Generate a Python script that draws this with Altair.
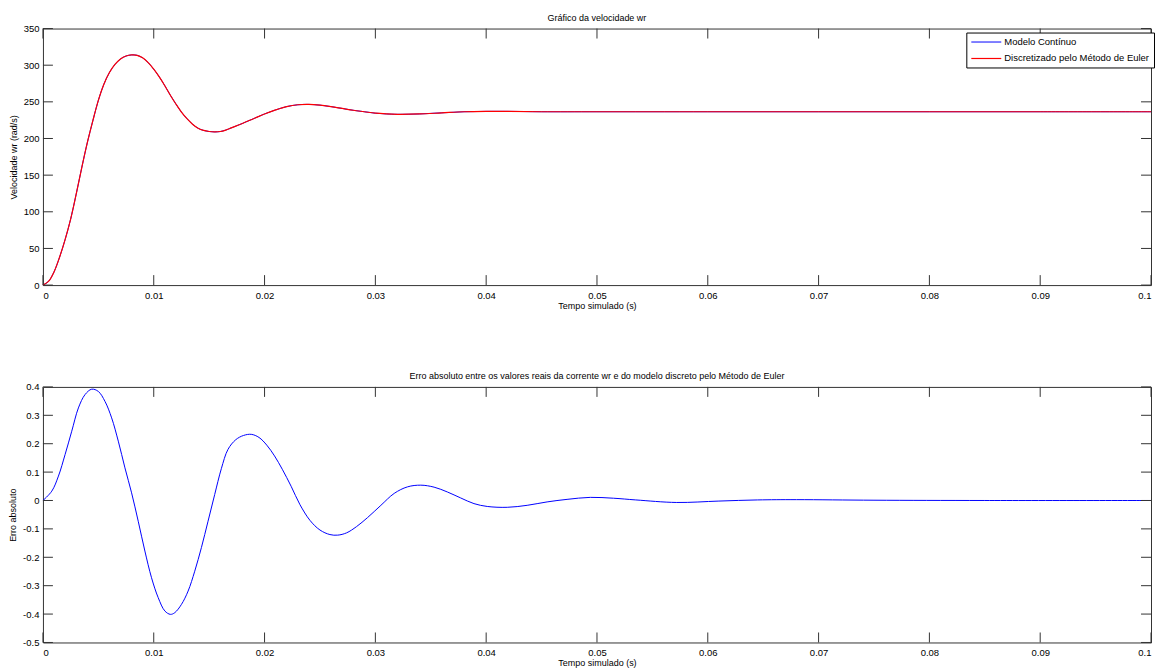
import altair as alt
import pandas as pd

# ---- data ----
t_vel = [0, 0.0005, 0.001, 0.0015, 0.002, 0.0025, 0.003, 0.0035, 0.004, 0.0045, 0.005,
         0.0055, 0.006, 0.0065, 0.007, 0.0075, 0.008, 0.0085, 0.009, 0.0095, 0.01,
         0.0105, 0.011, 0.0115, 0.012, 0.0125, 0.013, 0.0135, 0.014, 0.0145, 0.015,
         0.0155, 0.016, 0.0165, 0.017, 0.018, 0.019, 0.020, 0.021, 0.022, 0.023,
         0.024, 0.025, 0.026, 0.027, 0.028, 0.029, 0.030, 0.031, 0.032, 0.034,
         0.036, 0.038, 0.040, 0.042, 0.045, 0.05, 0.06, 0.07, 0.08, 0.09, 0.1]
v_continuo = [0, 5, 18, 38, 62, 90, 124, 160, 194, 224, 252,
              274, 290, 301, 308.5, 312.5, 314, 313.5, 310, 303.5, 294.5,
              284, 272, 259, 247, 236, 227, 219.5, 214, 211, 209.5,
              209, 209.5, 211.5, 214.5, 220.5, 227, 233.5, 239, 243.5, 246,
              246.5, 245.5, 243.5, 241, 238.5, 236.5, 234.5, 233.5, 233, 233.5,
              235, 236.5, 237, 237, 236.5, 236.5, 236.5, 236.5, 236.5, 236.5, 236.5]
v_euler = [0, 5, 18, 38, 62, 90, 124, 160, 194, 224, 252,
           274, 290, 301, 308.5, 312.5, 314, 313.5, 310, 303.5, 294.5,
           284, 272, 259, 247, 236, 227, 219.5, 214, 211, 209.5,
           209, 209.5, 211.5, 214.5, 220.5, 227, 233.5, 239, 243.5, 246,
           246.5, 245.5, 243.5, 241, 238.5, 236.5, 234.5, 233.5, 233, 233.5,
           235, 236.5, 237, 237, 236.5, 236.5, 236.5, 236.5, 236.5, 236.5, 236.5]

t_err = [0, 0.0008, 0.0014, 0.002, 0.0026, 0.0032, 0.0038, 0.0044, 0.005, 0.0056,
         0.0062, 0.0068, 0.0074, 0.008, 0.0086, 0.0092, 0.0098, 0.0104, 0.011, 0.0115,
         0.0119, 0.0125, 0.0131, 0.0137, 0.0143, 0.0149, 0.0155, 0.0161, 0.0167, 0.0174,
         0.0181, 0.0188, 0.0195, 0.0202, 0.0209, 0.0216, 0.0224, 0.0232, 0.0241, 0.025,
         0.0259, 0.0266, 0.0274, 0.0283, 0.0293, 0.0305, 0.0317, 0.0329, 0.0341, 0.0353,
         0.0365, 0.0377, 0.0389, 0.0401, 0.0419, 0.0437, 0.0455, 0.0473, 0.0494, 0.0515,
         0.0535, 0.0572, 0.061, 0.0645, 0.068, 0.075, 0.085, 0.1]
erro = [0, 0.033, 0.086, 0.162, 0.244, 0.326, 0.373, 0.392, 0.384, 0.349,
        0.291, 0.209, 0.115, 0.027, -0.073, -0.178, -0.272, -0.342, -0.389, -0.401,
        -0.395, -0.366, -0.319, -0.249, -0.166, -0.073, 0.021, 0.112, 0.180, 0.214,
        0.229, 0.233, 0.222, 0.195, 0.157, 0.110, 0.050, -0.015, -0.070, -0.104,
        -0.12, -0.122, -0.114, -0.092, -0.060, -0.017, 0.025, 0.048, 0.054, 0.047,
        0.030, 0.009, -0.011, -0.021, -0.024, -0.017, -0.005, 0.004, 0.011, 0.008,
        0.002, -0.007, -0.002, 0.002, 0.003, 0.001, 0, 0]

x_ticks = [0, 0.01, 0.02, 0.03, 0.04, 0.05, 0.06, 0.07, 0.08, 0.09, 0.1]
vel_ticks = [0, 50, 100, 150, 200, 250, 300, 350]
err_ticks = [-0.5, -0.4, -0.3, -0.2, -0.1, 0, 0.1, 0.2, 0.3, 0.4]

series_names = ["Modelo Contínuo", "Discretizado pelo Método de Euler"]

W = 1110
H1 = 257
H2 = 256
TL = 10
AX = "#333333"
FONT = "Liberation Sans"

vel_df = pd.concat([
    pd.DataFrame({"t": t_vel, "v": v_continuo, "serie": series_names[0], "o": 0}),
    pd.DataFrame({"t": t_vel, "v": v_euler, "serie": series_names[1], "o": 1}),
])
err_df = pd.DataFrame({"t": t_err, "v": erro})

xt_df = pd.DataFrame({"t": x_ticks})
vt_df = pd.DataFrame({"v": vel_ticks})
et_df = pd.DataFrame({"v": err_ticks})

x_label = "round(datum.value*100)/100 + ''"


def x_enc():
    return alt.X("t:Q", scale=alt.Scale(domain=[0, 0.1], nice=False, zero=False),
                 axis=alt.Axis(values=x_ticks, labelExpr=x_label, title="Tempo simulado (s)",
                               grid=False, domain=False, ticks=False, labelPadding=5,
                               titlePadding=2))


def ticks_layers(yenc, ticks_df, h):
    xb = alt.Chart(xt_df).mark_rule(color=AX, strokeWidth=1).encode(
        x=x_enc(), y=alt.value(h), y2=alt.value(h - TL))
    xtop = alt.Chart(xt_df).mark_rule(color=AX, strokeWidth=1).encode(
        x=x_enc(), y=alt.value(0), y2=alt.value(TL))
    yl = alt.Chart(ticks_df).mark_rule(color=AX, strokeWidth=1).encode(
        y=yenc(), x=alt.value(0), x2=alt.value(TL))
    yr = alt.Chart(ticks_df).mark_rule(color=AX, strokeWidth=1).encode(
        y=yenc(), x=alt.value(W), x2=alt.value(W - TL))
    return [xb, xtop, yl, yr]


def y_vel():
    return alt.Y("v:Q", scale=alt.Scale(domain=[0, 350], nice=False),
                 axis=alt.Axis(values=vel_ticks, title="Velocidade wr (rad/s)", grid=False,
                               domain=False, ticks=False, labelPadding=4, titlePadding=5))


def y_err():
    return alt.Y("v:Q", scale=alt.Scale(domain=[-0.5, 0.4], nice=False, zero=False),
                 axis=alt.Axis(values=err_ticks, labelExpr="round(datum.value*10)/10 + ''",
                               title="Erro absoluto", grid=False, domain=False, ticks=False,
                               labelPadding=4, titlePadding=5))


vel_lines = alt.Chart(vel_df).mark_line(interpolate="catmull-rom").encode(
    x=x_enc(),
    y=y_vel(),
    color=alt.Color("serie:N", scale=alt.Scale(domain=series_names, range=["#0000ff", "#ff0000"]),
                    legend=alt.Legend(title=None, orient="none", legendX=925, legendY=4,
                                      strokeColor="#000000", fillColor="#ffffff", padding=4,
                                      symbolType="M-1,0H5", symbolSize=100,
                                      symbolStrokeWidth=1,
                                      labelFont=FONT, labelFontSize=9.5, labelLimit=400,
                                      labelOffset=22, rowPadding=6)),
    strokeWidth=alt.StrokeWidth("serie:N", scale=alt.Scale(domain=series_names, range=[1, 1.2]),
                                legend=None),
    order=alt.Order("o:Q"),
    detail="serie:N",
)

top = alt.layer(vel_lines, *ticks_layers(y_vel, vt_df, H1)).properties(
    width=W, height=H1,
    title=alt.TitleParams("Gráfico da velocidade wr", fontSize=9, font=FONT, fontWeight="normal",
                          anchor="middle", offset=1, color="#000"))

err_line = alt.Chart(err_df).mark_line(strokeWidth=1, color="#0000ff", interpolate="catmull-rom").encode(
    x=x_enc(), y=y_err())

bottom = alt.layer(err_line, *ticks_layers(y_err, et_df, H2)).properties(
    width=W, height=H2,
    title=alt.TitleParams(
        "Erro absoluto entre os valores reais da corrente wr e do modelo discreto pelo Método de Euler",
        fontSize=9, font=FONT, fontWeight="normal", anchor="middle", offset=1, color="#000"))

chart = alt.vconcat(top, bottom, spacing=60).properties(
    padding={"left": 0, "right": 0, "top": 4, "bottom": 0}
).configure_view(stroke=AX, strokeWidth=1).configure_axis(
    labelFont=FONT, labelFontSize=9.5, labelColor="#000", titleFont=FONT, titleFontSize=9,
    titleFontWeight="normal", titleColor="#000"
)

chart.save("out.html", embed_options={"renderer": "svg", "actions": False})
